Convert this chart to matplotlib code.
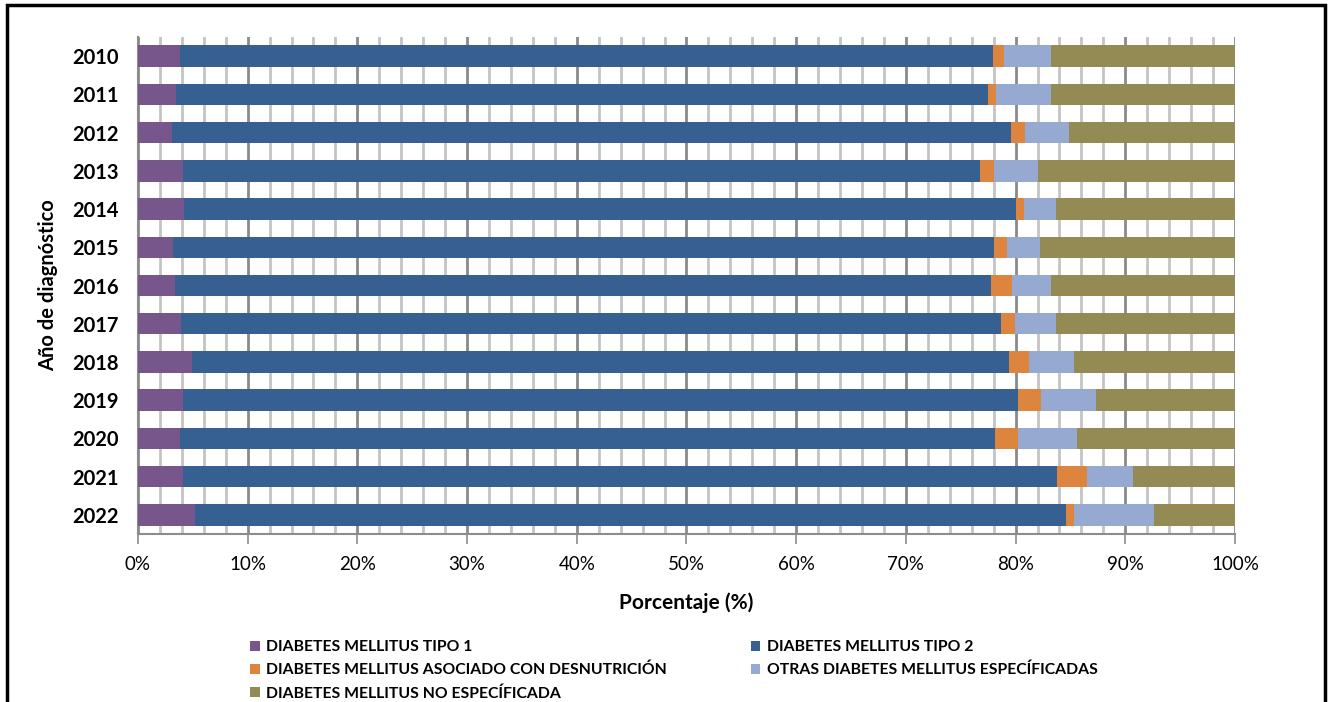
import numpy as np
import matplotlib
matplotlib.use("Agg")
import matplotlib.pyplot as plt
from matplotlib.patches import Rectangle
from matplotlib.ticker import MultipleLocator, FuncFormatter

plt.rcParams['font.family'] = ['Lato', 'DejaVu Sans']

# years of diagnosis (top to bottom)
years = ['2010', '2011', '2012', '2013', '2014', '2015', '2016',
         '2017', '2018', '2019', '2020', '2021', '2022']

# percentage of each type per year
tipo1 = [3.8, 3.5, 3.1, 4.1, 4.2, 3.2, 3.4, 3.9, 4.9, 4.1, 3.8, 4.1, 5.2]
tipo2 = [74.1, 74.0, 76.5, 72.7, 75.8, 74.8, 74.4, 74.8, 74.5, 76.1, 74.3, 79.7, 79.4]
desnut = [1.0, 0.7, 1.3, 1.2, 0.8, 1.2, 1.9, 1.2, 1.8, 2.1, 2.1, 2.7, 0.7]
otras = [4.3, 5.0, 4.0, 4.0, 2.9, 3.0, 3.5, 3.8, 4.1, 5.0, 5.4, 4.2, 7.3]
no_esp = [16.8, 16.8, 15.1, 18.0, 16.3, 17.8, 16.8, 16.3, 14.7, 12.7, 14.4, 9.3, 7.4]

labels = ['DIABETES MELLITUS TIPO 1',
          'DIABETES MELLITUS TIPO 2',
          'DIABETES MELLITUS ASOCIADO CON DESNUTRICIÓN',
          'OTRAS DIABETES MELLITUS ESPECÍFICADAS',
          'DIABETES MELLITUS NO ESPECÍFICADA']
colors = ['#77568B', '#366092', '#DD843E', '#95A9D1', '#948A54']

series = [tipo1, tipo2, desnut, otras, no_esp]

fig = plt.figure(figsize=(13.34, 7.02), dpi=100)
ax = fig.add_axes([0.1034, 0.2393, 0.8224, 0.7080])

y = np.arange(len(years))
left = np.zeros(len(years))
bars = []
for vals, lab, col in zip(series, labels, colors):
    vals = np.array(vals)
    b = ax.barh(y, vals, left=left, height=0.56, color=col, label=lab, zorder=3)
    bars.append(b)
    left = left + vals

ax.set_xlim(0, 100)
ax.set_ylim(len(years) - 0.5, -0.5)
ax.set_yticks(y)
ax.set_yticklabels(years, fontsize=14.5, fontweight='bold')
ax.xaxis.set_major_locator(MultipleLocator(10))
ax.xaxis.set_minor_locator(MultipleLocator(2))
ax.xaxis.set_major_formatter(FuncFormatter(lambda v, p: '%d%%' % v))
ax.tick_params(axis='x', which='major', length=7, width=1.2, color='#8c8c8c',
               labelsize=13.5, pad=9)
ax.tick_params(axis='x', which='minor', length=0)
ax.tick_params(axis='y', length=0, pad=14)

ax.grid(axis='x', which='major', color='#8a8a8a', linewidth=2.0, zorder=0)
ax.grid(axis='x', which='minor', color='#c4c4c4', linewidth=2.0, zorder=0)
ax.set_axisbelow(True)

for s in ['top', 'right']:
    ax.spines[s].set_visible(False)
for s in ['left', 'bottom']:
    ax.spines[s].set_color('#8c8c8c')
    ax.spines[s].set_linewidth(1.5)

ax.set_xlabel('Porcentaje (%)', fontsize=15, fontweight='bold', labelpad=14)
ax.set_ylabel('Año de diagnóstico', fontsize=14.5, fontweight='bold', labelpad=10)

# legend order so rows read T1/T2, desnut/otras, no esp
order = [0, 2, 4, 1, 3]
leg = fig.legend([bars[i] for i in order], [labels[i] for i in order],
                 ncol=2, loc='upper left', bbox_to_anchor=(0.183, 0.097),
                 frameon=False, prop={'weight': 'bold', 'size': 11.3},
                 handlelength=0.6, handleheight=0.6, handletextpad=0.4,
                 columnspacing=5.35, labelspacing=0.56, borderaxespad=0)

# outer frame
fig.patches.append(Rectangle((0.0055, -0.05), 0.988, 1.043, transform=fig.transFigure,
                             fill=False, edgecolor='black', linewidth=2.5))

fig.savefig('out.png', dpi=100)
